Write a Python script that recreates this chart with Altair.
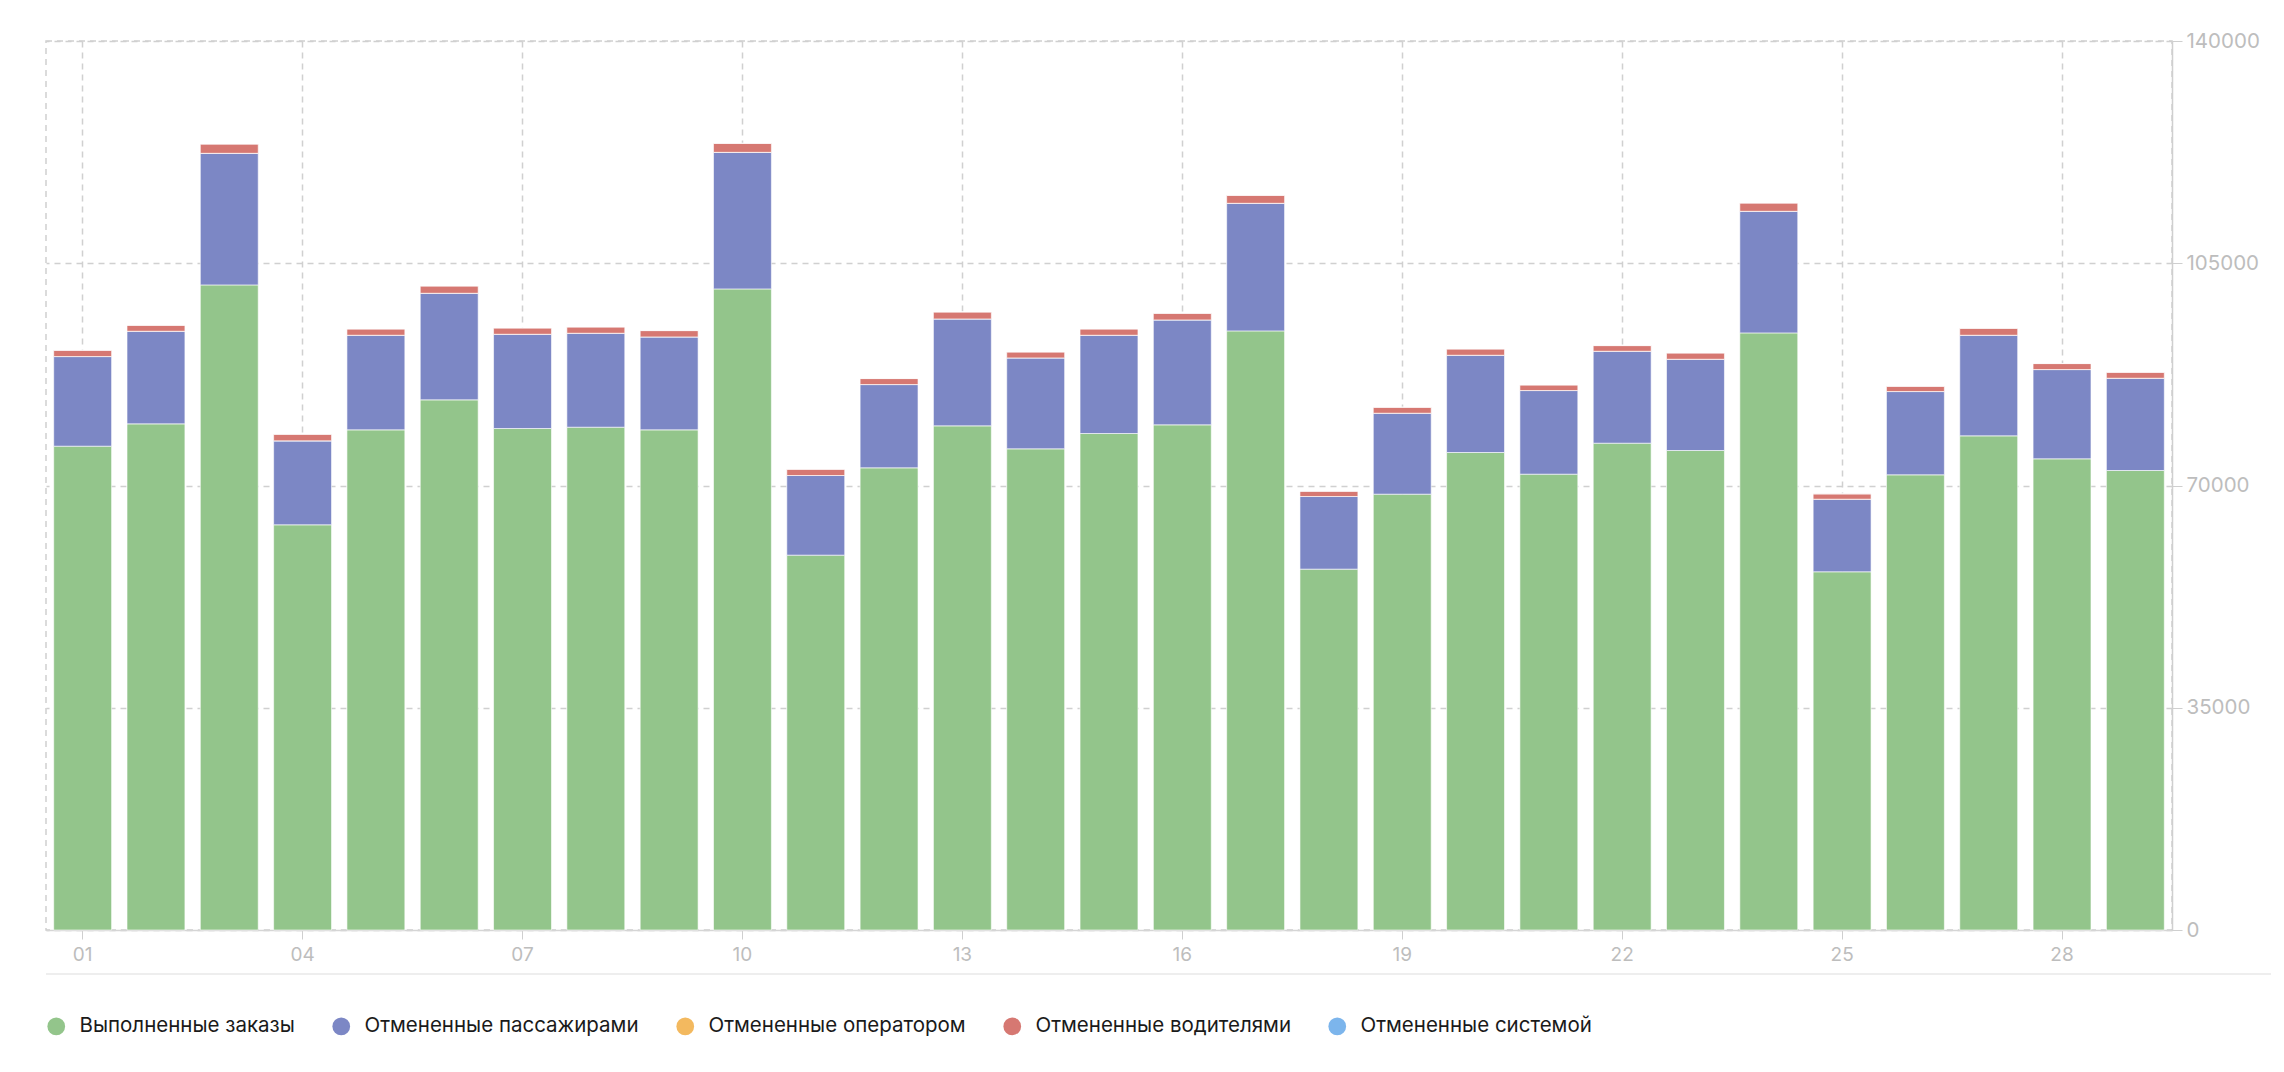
import altair as alt
import pandas as pd

days = [f"{d:02d}" for d in range(1, 30)]
completed = [76191, 79707, 101587, 63809, 78762, 83485, 78972, 79182, 78762, 100957,
             59034, 72781, 79392, 75772, 78185, 79550, 94346, 56830, 68636, 75195,
             71784, 76664, 75509, 94031, 56410, 71679, 77818, 74198, 72361]
by_passengers = [14115, 14587, 20726, 13222, 14902, 16790, 14849, 14797, 14640, 21513,
                 12540, 13117, 16843, 14324, 15479, 16528, 20096, 11438, 12750, 15321,
                 13170, 14481, 14377, 19152, 11439, 13118, 15846, 14062, 14534]
by_operator = [0] * 29
by_drivers = [1000, 944, 1469, 1049, 997, 1155, 997, 997, 997, 1417,
              997, 945, 1102, 944, 997, 1049, 1259, 840, 944, 997,
              892, 892, 997, 1312, 839, 839, 1102, 944, 945]
by_system = [0] * 29

series_names = ["Выполненные заказы", "Отмененные пассажирами", "Отмененные оператором",
                "Отмененные водителями", "Отмененные системой"]
series_colors = ["#93C58B", "#7C87C5", "#F3B95F", "#D67872", "#7CB5EC"]
series_values = [completed, by_passengers, by_operator, by_drivers, by_system]
x_tick_values = ["01", "04", "07", "10", "13", "16", "19", "22", "25", "28"]
y_tick_values = [0, 35000, 70000, 105000, 140000]

rows = []
for si, (name, vals) in enumerate(zip(series_names, series_values)):
    for d, v in zip(days, vals):
        rows.append({"day": d, "series": name, "value": v, "idx": si})
df = pd.DataFrame(rows)

W, H = 2126, 889
FONT = "Inter"

bars = alt.Chart(df).mark_bar(stroke="white", strokeWidth=1, strokeOpacity=0.6).encode(
    x=alt.X("day:O", sort=days, title=None,
            scale=alt.Scale(paddingInner=0.21, paddingOuter=0.105),
            axis=alt.Axis(values=x_tick_values, labelAngle=0, labelFontSize=19, labelFont=FONT,
                          labelColor="#bdbdbd", labelPadding=6, tickSize=9, tickColor="#cfcfcf",
                          domainColor="#d5d5d5", domainWidth=1.5,
                          grid=True, gridDash=[6, 5], gridColor="#d0d0d0", gridWidth=1.5)),
    y=alt.Y("value:Q", stack="zero", title=None,
            scale=alt.Scale(domain=[0, 140000], nice=False),
            axis=alt.Axis(orient="right", values=y_tick_values, format="d", labelFontSize=20.5,
                          labelFont=FONT, labelColor="#bdbdbd", labelPadding=4, tickSize=10,
                          tickColor="#cfcfcf", domainColor="#cfcfcf", domainWidth=1.5,
                          grid=True, gridDash=[6, 5], gridColor="#d0d0d0", gridWidth=1.5)),
    color=alt.Color("series:N", scale=alt.Scale(domain=series_names, range=series_colors),
                    legend=alt.Legend(orient="none", legendX=0, legendY=975, direction="horizontal",
                                      title=None, symbolType="circle", symbolSize=314,
                                      symbolStrokeWidth=0, symbolOpacity=1, labelFontSize=20.5,
                                      labelFont=FONT, labelColor="#1a1a1a", labelLimit=500,
                                      columnPadding=36, labelOffset=13, columns=5)),
    order=alt.Order("idx:Q", sort="ascending"),
)

sep = alt.Chart(pd.DataFrame({"y": [0]})).mark_rule(color="#e8e8e8", strokeWidth=1.5, clip=False).encode(
    x=alt.value(0), x2=alt.value(2225), y=alt.value(933)
)

chart = alt.layer(bars, sep).properties(
    width=W, height=H,
    autosize=alt.AutoSizeParams(type="none"),
    padding={"left": 38, "top": 33, "right": 100, "bottom": 120},
).configure_view(
    stroke="#d0d0d0", strokeDash=[6, 5], strokeWidth=1.5
)

chart.save("out.html", embed_options={"renderer": "svg", "actions": False})
